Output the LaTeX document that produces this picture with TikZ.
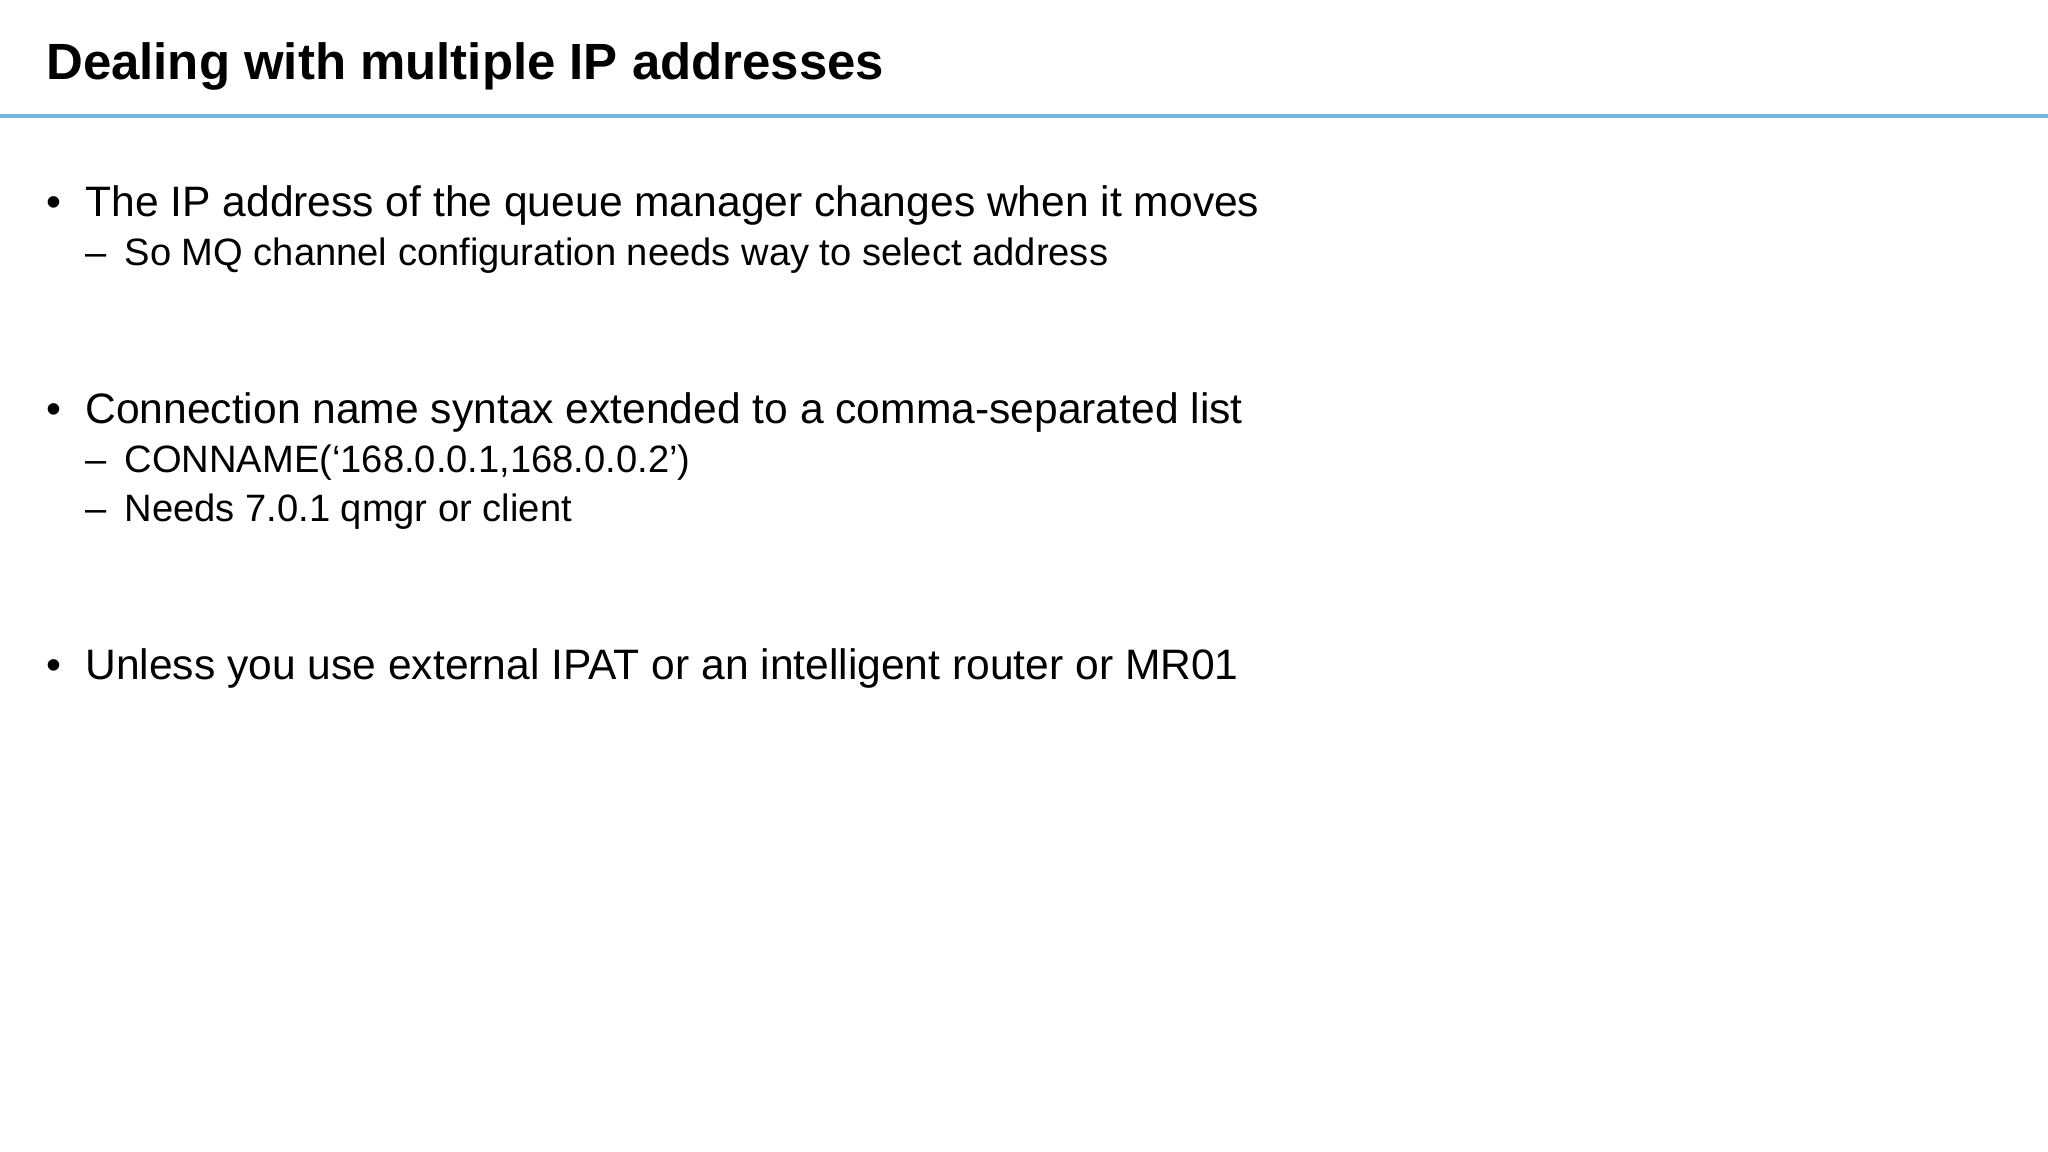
\documentclass[tikz,border=0pt]{standalone}
\usepackage{fontspec}
\setmainfont{Liberation Sans}
\definecolor{rule}{HTML}{74B4DE}
\begin{document}
\begin{tikzpicture}[x=0.5pt,y=-0.5pt,
  title/.style={anchor=base west,inner sep=0pt,font=\fontsize{19.5}{21}\selectfont\bfseries},
  main/.style={anchor=base west,inner sep=0pt,font=\fontsize{16.3}{18}\selectfont},
  sub/.style={anchor=base west,inner sep=0pt,font=\fontsize{14.6}{16}\selectfont}]
\useasboundingbox (0,0) rectangle (1568,882);
\node[title] (t) at (35,61) {Dealing with multiple IP addresses};
\draw[rule,line width=1.5pt] (0,89) coordinate (l1) -- (1568,89) coordinate (l2);
\node[main] (b1) at (35,166) {•}; \node[main] (m1) at (65,166) {The IP address of the queue manager changes when it moves};
\node[sub] (d1) at (65,203) {–}; \node[sub] (s1) at (95,203) {So MQ channel configuration needs way to select address};
\node[main] (b2) at (35,324) {•}; \node[main] (m2) at (65,324) {Connection name syntax extended to a comma-separated list};
\node[sub] (d2) at (65,362) {–}; \node[sub] (s2) at (95,362) {CONNAME(‘168.0.0.1,168.0.0.2’)};
\node[sub] (d3) at (65,399) {–}; \node[sub] (s3) at (95,399) {Needs 7.0.1 qmgr or client};
\node[main] (b3) at (35,520) {•}; \node[main] (m3) at (65,520) {Unless you use external IPAT or an intelligent router or MR01};
\end{tikzpicture}
\end{document}
